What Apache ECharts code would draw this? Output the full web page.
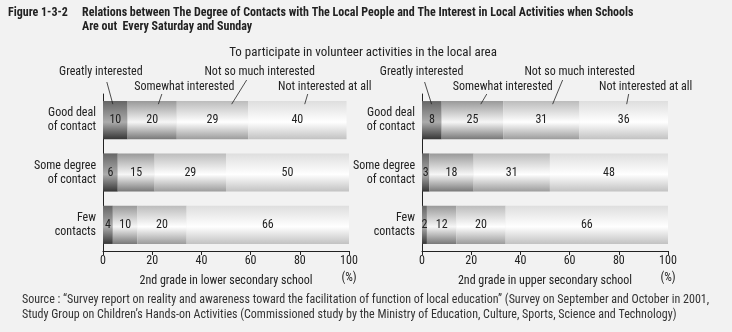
<!DOCTYPE html>
<html><head><meta charset="utf-8">
<script src="https://cdn.jsdelivr.net/npm/echarts@6/dist/echarts.min.js"></script>
<style>html,body{margin:0;padding:0;background:#f2f2f2}#c{width:732px;height:332px}</style>
</head><body><div id="c"></div><script>
const categories = ['Good deal\nof contact', 'Some degree\nof contact', 'Few\ncontacts'];
const seriesNames = ['Greatly interested', 'Somewhat interested', 'Not so much interested', 'Not interested at all'];
const lowerGreatly = [10, 6, 4];
const lowerSomewhat = [20, 15, 10];
const lowerNotSoMuch = [29, 29, 20];
const lowerNotAtAll = [40, 50, 66];
const upperGreatly = [8, 3, 2];
const upperSomewhat = [25, 18, 12];
const upperNotSoMuch = [31, 31, 20];
const upperNotAtAll = [36, 48, 66];
const axisNames = ['2nd grade in lower secondary school', '2nd grade in upper secondary school'];
const xMin = 0, xMax = 100, xStep = 20;

const FONT = '"Roboto Condensed","DejaVu Sans Condensed",sans-serif';
const shades = [
  ['#666666', '#acacac', '#363636'],
  ['#999999', '#f6f6f6', '#787878'],
  ['#bcbcbc', '#ffffff', '#9c9c9c'],
  ['#dedede', '#ffffff', '#c2c2c2']
];
function grad(s) {
  return new echarts.graphic.LinearGradient(0, 0, 0, 1, [
    {offset: 0, color: s[0]}, {offset: 0.55, color: s[1]}, {offset: 1, color: s[2]}
  ]);
}
const panels = [
  [lowerGreatly, lowerSomewhat, lowerNotSoMuch, lowerNotAtAll],
  [upperGreatly, upperSomewhat, upperNotSoMuch, upperNotAtAll]
];
const gridLefts = [103, 422];
const chart = echarts.init(document.getElementById('c'));
const grids = [], xAxes = [], yAxes = [], series = [];
panels.forEach((p, gi) => {
  grids.push({left: gridLefts[gi], width: 246, top: 94, bottom: 81});
  xAxes.push({
    gridIndex: gi, type: 'value', min: xMin, max: xMax, interval: xStep,
    name: axisNames[gi], nameLocation: 'middle', nameGap: 24,
    nameTextStyle: {fontFamily: FONT, fontSize: 12, color: '#222'},
    axisLine: {show: true, lineStyle: {color: '#222', width: 1}},
    axisTick: {show: true, length: 4, lineStyle: {color: '#222'}},
    axisLabel: {fontFamily: FONT, fontSize: 12, color: '#222', margin: 4},
    splitLine: {show: false}
  });
  yAxes.push({
    gridIndex: gi, type: 'category', data: categories, inverse: true,
    axisLine: {show: true, lineStyle: {color: '#222', width: 1}},
    axisTick: {show: false},
    axisLabel: {fontFamily: FONT, fontSize: 12, color: '#222', margin: 7, align: 'right', lineHeight: 14}
  });
  p.forEach((vals, si) => {
    series.push({
      type: 'bar', name: seriesNames[si], stack: 'p' + gi,
      xAxisIndex: gi, yAxisIndex: gi, data: vals,
      barCategoryGap: '27%',
      itemStyle: {color: grad(shades[si])},
      label: {show: true, position: 'inside', fontFamily: FONT, fontSize: 12, color: '#222'},
      emphasis: {disabled: true}
    });
  });
});
chart.setOption({
  backgroundColor: '#f2f2f2', animation: false,
  grid: grids, xAxis: xAxes, yAxis: yAxes, series: series
});

// annotations: [series index, anchor value, top dx, top y, text dx, text y]
const annLeft = [[0, 4, -6, 82, -12, 72], [1, 22.5, 3.5, 94, 26, 87], [2, 52.3, 15, 80, 28, 72], [3, 82, 3, 94, 20, 87]];
const annRight = [[0, 3.9, -7, 82, -10, 72], [1, 23.9, 6, 94, 22, 87], [2, 53.1, 10, 80, 27, 72], [3, 83.2, 2, 94, 19, 87]];
const g = [];
[annLeft, annRight].forEach((anns, gi) => {
  anns.forEach(a => {
    const pt = chart.convertToPixel({xAxisIndex: gi, yAxisIndex: gi}, [a[1], categories[0]]);
    const bx = pt[0], by = pt[1] - 16;
    g.push({type: 'line', shape: {x1: bx + a[2], y1: a[3], x2: bx, y2: by}, style: {stroke: '#222', lineWidth: 0.8}, z: 100});
    g.push({type: 'text', x: bx + a[4], y: a[5], style: {text: seriesNames[a[0]], font: '12px ' + FONT, fill: '#222', textAlign: 'center', textVerticalAlign: 'middle'}, z: 100});
  });
  const pe = chart.convertToPixel({xAxisIndex: gi, yAxisIndex: gi}, [xMax, categories[2]]);
  g.push({type: 'text', x: pe[0], y: 278, style: {text: '(%)', font: '12px ' + FONT, fill: '#222', textAlign: 'center', textVerticalAlign: 'middle'}});
});
g.push({type: 'text', x: 8, y: 13, style: {text: 'Figure 1-3-2', font: 'bold 12px ' + FONT, fill: '#222', textVerticalAlign: 'middle'}});
g.push({type: 'text', x: 82, y: 13, style: {text: 'Relations between The Degree of Contacts with The Local People and The Interest in Local Activities when Schools', font: 'bold 12px ' + FONT, fill: '#222', textVerticalAlign: 'middle'}});
g.push({type: 'text', x: 82, y: 27, style: {text: 'Are out  Every Saturday and Sunday', font: 'bold 12px ' + FONT, fill: '#222', textVerticalAlign: 'middle'}});
g.push({type: 'text', x: 363, y: 53, style: {text: 'To participate in volunteer activities in the local area', font: '13px ' + FONT, fill: '#222', textAlign: 'center', textVerticalAlign: 'middle'}});
g.push({type: 'text', x: 22, y: 300, style: {text: 'Source : \u201cSurvey report on reality and awareness toward the facilitation of function of local education\u201d (Survey on September and October in 2001,', font: '12px ' + FONT, fill: '#333', textVerticalAlign: 'middle'}});
g.push({type: 'text', x: 22, y: 315, style: {text: 'Study Group on Children\u2019s Hands-on Activities (Commissioned study by the Ministry of Education, Culture, Sports, Science and Technology)', font: '12px ' + FONT, fill: '#333', textVerticalAlign: 'middle'}});
chart.setOption({graphic: g});
</script></body></html>
